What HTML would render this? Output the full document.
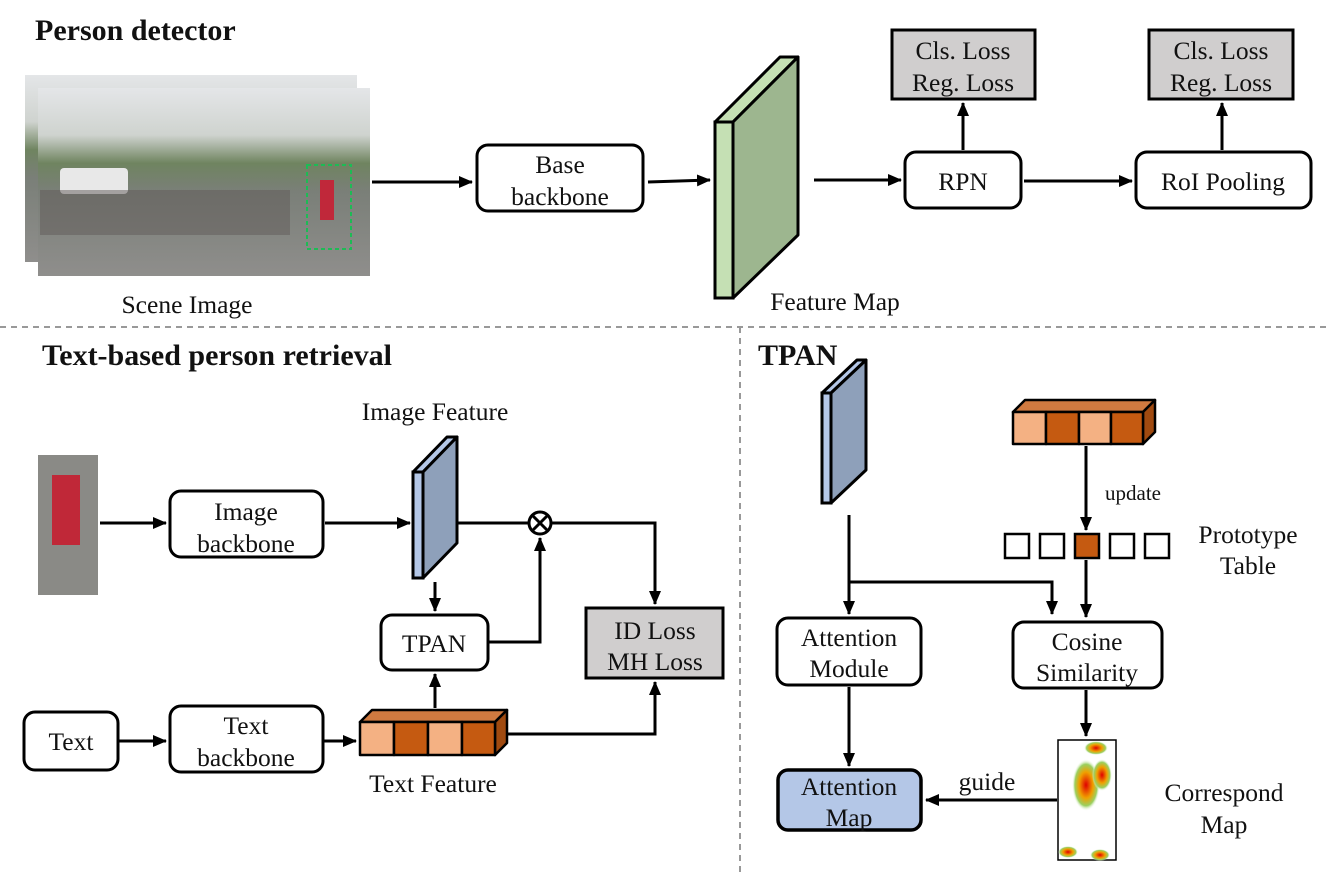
<!DOCTYPE html>
<html><head><meta charset="utf-8"><style>
html,body{margin:0;padding:0;background:#fff}
svg{display:block}
text{font-family:"Liberation Serif",serif;fill:#111}
</style></head><body>
<svg width="1329" height="877" viewBox="0 0 1329 877" xmlns="http://www.w3.org/2000/svg">
<defs>
<marker id="a" markerWidth="14" markerHeight="12" refX="13" refY="6" orient="auto" markerUnits="userSpaceOnUse"><path d="M0,0 L14,6 L0,12 z" fill="#000"/></marker>
<linearGradient id="sky" x1="0" y1="0" x2="0" y2="1">
<stop offset="0" stop-color="#e4e6e8"/><stop offset="0.25" stop-color="#cfd3cf"/><stop offset="0.4" stop-color="#6f8460"/><stop offset="0.55" stop-color="#7a7f78"/><stop offset="1" stop-color="#8f8e8c"/></linearGradient>
<radialGradient id="hot"><stop offset="0" stop-color="#e00000"/><stop offset="0.5" stop-color="#f0a000"/><stop offset="0.8" stop-color="#9ad060"/><stop offset="1" stop-color="#ffffff" stop-opacity="0"/></radialGradient>
</defs>
<g font-size="25.5" text-anchor="middle">
<text x="35" y="40" font-size="30" font-weight="bold" text-anchor="start">Person detector</text>
<rect x="25" y="75" width="332" height="187" fill="url(#sky)"/>
<rect x="38" y="88" width="332" height="188" fill="url(#sky)"/>
<rect x="60" y="168" width="68" height="26" fill="#e8e8e8" rx="4"/>
<rect x="40" y="190" width="250" height="45" fill="#5f5a58" opacity="0.5"/>
<rect x="307" y="165" width="44" height="84" fill="none" stroke="#1dbb55" stroke-width="2" stroke-dasharray="4,3"/>
<rect x="320" y="180" width="14" height="40" fill="#c0283a"/>
<text x="187" y="313">Scene Image</text>
<line x1="372" y1="182" x2="472" y2="182" stroke="#000" stroke-width="3" marker-end="url(#a)"/>
<rect x="477" y="145" width="166" height="66" rx="11" fill="#fff" stroke="#000" stroke-width="3"/>
<text x="560" y="173">Base</text><text x="560" y="205">backbone</text>
<line x1="648" y1="182" x2="710" y2="180" stroke="#000" stroke-width="3" marker-end="url(#a)"/>
<polygon points="715,122 733,122 798,57 780,57" fill="#c5e0b4" stroke="#000" stroke-width="3" stroke-linejoin="round"/>
<polygon points="733,122 798,57 798,235 733,298" fill="#9db68f" stroke="#000" stroke-width="3" stroke-linejoin="round"/>
<rect x="715" y="122" width="18" height="176" fill="#c5e0b4" stroke="#000" stroke-width="3"/>
<text x="835" y="310">Feature Map</text>
<line x1="814" y1="180" x2="901" y2="180" stroke="#000" stroke-width="3" marker-end="url(#a)"/>
<rect x="905" y="152" width="116" height="56" rx="11" fill="#fff" stroke="#000" stroke-width="3"/>
<text x="963" y="190">RPN</text>
<rect x="892" y="30" width="143" height="69" fill="#d0cece" stroke="#000" stroke-width="3"/>
<text x="963" y="59">Cls. Loss</text><text x="963" y="91">Reg. Loss</text>
<line x1="963" y1="150" x2="963" y2="103" stroke="#000" stroke-width="3" marker-end="url(#a)"/>
<line x1="1024" y1="181" x2="1132" y2="181" stroke="#000" stroke-width="3" marker-end="url(#a)"/>
<rect x="1136" y="152" width="175" height="56" rx="11" fill="#fff" stroke="#000" stroke-width="3"/>
<text x="1223" y="190">RoI Pooling</text>
<rect x="1149" y="30" width="144" height="69" fill="#d0cece" stroke="#000" stroke-width="3"/>
<text x="1221" y="59">Cls. Loss</text><text x="1221" y="91">Reg. Loss</text>
<line x1="1222" y1="150" x2="1222" y2="103" stroke="#000" stroke-width="3" marker-end="url(#a)"/>

<line x1="0" y1="327" x2="1329" y2="327" stroke="#999" stroke-width="2" stroke-dasharray="6,5"/>
<line x1="740" y1="327" x2="740" y2="877" stroke="#999" stroke-width="2" stroke-dasharray="6,5"/>

<text x="42" y="365" font-size="30" font-weight="bold" text-anchor="start">Text-based person retrieval</text>
<rect x="38" y="455" width="60" height="140" fill="#8a8a86"/>
<rect x="52" y="475" width="28" height="70" fill="#c02838"/>
<line x1="100" y1="523" x2="166" y2="523" stroke="#000" stroke-width="3" marker-end="url(#a)"/>
<rect x="170" y="491" width="153" height="66" rx="11" fill="#fff" stroke="#000" stroke-width="3"/>
<text x="246" y="520">Image</text><text x="246" y="552">backbone</text>
<line x1="325" y1="523" x2="410" y2="523" stroke="#000" stroke-width="3" marker-end="url(#a)"/>
<polygon points="413,472 423,472 457,437 447,437" fill="#b4c7e7" stroke="#000" stroke-width="3" stroke-linejoin="round"/>
<polygon points="423,472 457,437 457,543 423,578" fill="#8ea0ba" stroke="#000" stroke-width="3" stroke-linejoin="round"/>
<rect x="413" y="472" width="10" height="106" fill="#b4c7e7" stroke="#000" stroke-width="3"/>
<text x="435" y="420">Image Feature</text>
<line x1="457" y1="523" x2="529" y2="523" stroke="#000" stroke-width="3"/>
<circle cx="540" cy="523" r="11" fill="#fff" stroke="#000" stroke-width="3"/>
<line x1="532" y1="515" x2="548" y2="531" stroke="#000" stroke-width="3"/><line x1="548" y1="515" x2="532" y2="531" stroke="#000" stroke-width="3"/>
<polyline points="551,523 655,523 655,604" fill="none" stroke="#000" stroke-width="3" marker-end="url(#a)"/>
<rect x="586" y="608" width="137" height="70" fill="#d0cece" stroke="#000" stroke-width="3"/>
<text x="655" y="639">ID Loss</text><text x="655" y="670">MH Loss</text>
<line x1="435" y1="582" x2="435" y2="611" stroke="#000" stroke-width="3" marker-end="url(#a)"/>
<rect x="381" y="615" width="107" height="55" rx="11" fill="#fff" stroke="#000" stroke-width="3"/>
<text x="434" y="652">TPAN</text>
<polyline points="488,642 540,642 540,538" fill="none" stroke="#000" stroke-width="3" marker-end="url(#a)"/>
<line x1="435" y1="708" x2="435" y2="674" stroke="#000" stroke-width="3" marker-end="url(#a)"/>
<g stroke="#000" stroke-width="2.5" stroke-linejoin="round">
<polygon points="360,722 495,722 507,710 372,710" fill="#d07a40"/>
<polygon points="495,722 507,710 507,743 495,755" fill="#a04a10"/>
<rect x="360" y="722" width="34" height="33" fill="#f4b183"/>
<rect x="394" y="722" width="34" height="33" fill="#c55a11"/>
<rect x="428" y="722" width="34" height="33" fill="#f4b183"/>
<rect x="462" y="722" width="33" height="33" fill="#c55a11"/>
</g>
<polyline points="508,734 655,734 655,682" fill="none" stroke="#000" stroke-width="3" marker-end="url(#a)"/>
<rect x="24" y="712" width="94" height="58" rx="11" fill="#fff" stroke="#000" stroke-width="3"/>
<text x="71" y="750">Text</text>
<line x1="118" y1="741" x2="166" y2="741" stroke="#000" stroke-width="3" marker-end="url(#a)"/>
<rect x="170" y="706" width="153" height="66" rx="11" fill="#fff" stroke="#000" stroke-width="3"/>
<text x="246" y="734">Text</text><text x="246" y="766">backbone</text>
<line x1="323" y1="741" x2="356" y2="741" stroke="#000" stroke-width="3" marker-end="url(#a)"/>
<text x="433" y="792">Text Feature</text>

<text x="758" y="365" font-size="30" font-weight="bold" text-anchor="start">TPAN</text>
<polygon points="822,393 831,393 866,360 857,360" fill="#b4c7e7" stroke="#000" stroke-width="3" stroke-linejoin="round"/>
<polygon points="831,393 866,360 866,470 831,503" fill="#8ea0ba" stroke="#000" stroke-width="3" stroke-linejoin="round"/>
<rect x="822" y="393" width="9" height="110" fill="#b4c7e7" stroke="#000" stroke-width="3"/>
<line x1="849" y1="515" x2="849" y2="614" stroke="#000" stroke-width="3" marker-end="url(#a)"/>
<polyline points="849,582 1052,582 1052,614" fill="none" stroke="#000" stroke-width="3" marker-end="url(#a)"/>
<g stroke="#000" stroke-width="2.5" stroke-linejoin="round">
<polygon points="1013,412 1143,412 1155,400 1025,400" fill="#d07a40"/>
<polygon points="1143,412 1155,400 1155,432 1143,444" fill="#a04a10"/>
<rect x="1013" y="412" width="33" height="32" fill="#f4b183"/>
<rect x="1046" y="412" width="33" height="32" fill="#c55a11"/>
<rect x="1079" y="412" width="32" height="32" fill="#f4b183"/>
<rect x="1111" y="412" width="32" height="32" fill="#c55a11"/>
</g>
<line x1="1086" y1="446" x2="1086" y2="530" stroke="#000" stroke-width="3" marker-end="url(#a)"/>
<text x="1105" y="500" font-size="21" text-anchor="start">update</text>
<g stroke="#000" stroke-width="2.5">
<rect x="1005" y="534" width="24" height="24" fill="#fff"/>
<rect x="1040" y="534" width="24" height="24" fill="#fff"/>
<rect x="1075" y="534" width="24" height="24" fill="#c55a11"/>
<rect x="1110" y="534" width="24" height="24" fill="#fff"/>
<rect x="1145" y="534" width="24" height="24" fill="#fff"/>
</g>
<text x="1248" y="543">Prototype</text><text x="1248" y="574">Table</text>
<line x1="1086" y1="560" x2="1086" y2="617" stroke="#000" stroke-width="3" marker-end="url(#a)"/>
<rect x="777" y="618" width="144" height="67" rx="11" fill="#fff" stroke="#000" stroke-width="3"/>
<text x="849" y="646">Attention</text><text x="849" y="677">Module</text>
<rect x="1013" y="622" width="149" height="66" rx="11" fill="#fff" stroke="#000" stroke-width="3"/>
<text x="1087" y="650">Cosine</text><text x="1087" y="681">Similarity</text>
<line x1="849" y1="687" x2="849" y2="766" stroke="#000" stroke-width="3" marker-end="url(#a)"/>
<rect x="778" y="770" width="143" height="60" rx="10" fill="#b4c7e7" stroke="#000" stroke-width="3.5"/>
<text x="849" y="795">Attention</text><text x="849" y="826">Map</text>
<line x1="1086" y1="690" x2="1086" y2="736" stroke="#000" stroke-width="3" marker-end="url(#a)"/>
<rect x="1058" y="740" width="58" height="120" fill="#fff" stroke="#000" stroke-width="1.5"/>
<ellipse cx="1096" cy="748" rx="12" ry="7" fill="url(#hot)"/>
<ellipse cx="1086" cy="785" rx="14" ry="26" fill="url(#hot)"/>
<ellipse cx="1102" cy="775" rx="10" ry="16" fill="url(#hot)"/>
<ellipse cx="1068" cy="852" rx="10" ry="6" fill="url(#hot)"/>
<ellipse cx="1100" cy="855" rx="10" ry="6" fill="url(#hot)"/>
<line x1="1057" y1="800" x2="926" y2="800" stroke="#000" stroke-width="3" marker-end="url(#a)"/>
<text x="987" y="790">guide</text>
<text x="1224" y="801">Correspond</text><text x="1224" y="833">Map</text>
</g>
</svg>
</body></html>
